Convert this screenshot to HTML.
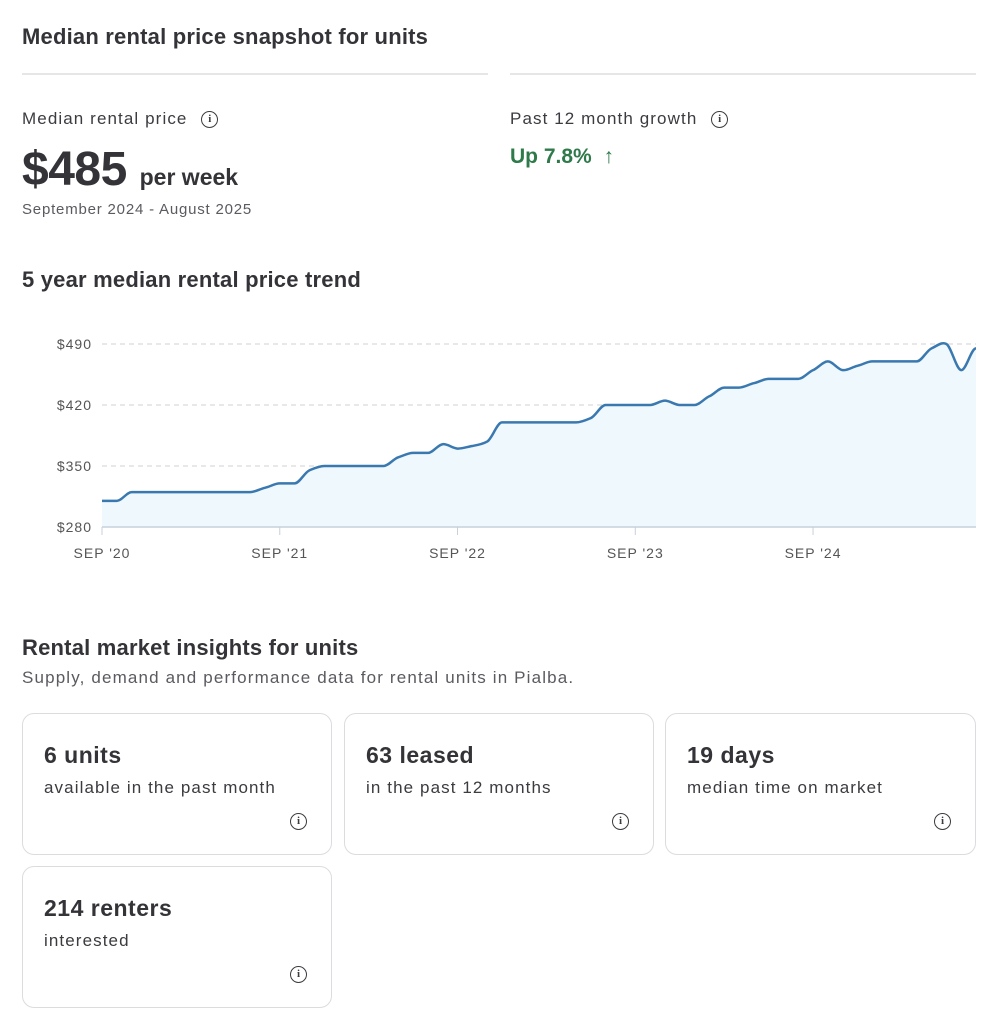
<!DOCTYPE html>
<html><head><meta charset="utf-8">
<style>
body{margin:0;width:994px;height:1024px;background:#fff;font-family:"Liberation Sans",sans-serif;color:#3b3b40;position:relative;overflow:hidden}
.a{position:absolute;white-space:nowrap}
.h{font-weight:bold;font-size:22px;color:#333338;letter-spacing:0.2px}
.rule{position:absolute;height:2px;background:#e6e6e8}
.lbl{font-size:17px;color:#3b3b40;letter-spacing:1.1px}
.info{display:inline-block;width:15px;height:15px;border:1.5px solid #3b3b40;border-radius:50%;font-size:11px;line-height:15px;text-align:center;font-weight:bold;font-family:"Liberation Serif",serif;vertical-align:middle;letter-spacing:0}
.card{position:absolute;border:1px solid #dcdcdf;border-radius:12px;box-sizing:border-box}
.card .t{position:absolute;left:21px;top:28px;font-size:23px;font-weight:bold;color:#333338;letter-spacing:0.5px}
.card .s{position:absolute;left:21px;top:64px;font-size:17px;color:#3b3b40;letter-spacing:1.1px}
.card .info{position:absolute;right:24px;top:99px}
</style></head><body>
<div class="a h" style="left:22px;top:24px">Median rental price snapshot for units</div>
<div class="rule" style="left:22px;top:73px;width:466px"></div>
<div class="rule" style="left:510px;top:73px;width:466px"></div>
<div class="a lbl" style="left:22px;top:109px">Median rental price <span class="info" style="margin-left:8px">i</span></div>
<div class="a" style="left:22px;top:142px;font-size:48px;font-weight:bold;color:#333338;letter-spacing:-0.5px">$485 <span style="font-size:23px;letter-spacing:0">per week</span></div>
<div class="a" style="left:22px;top:201px;font-size:15px;color:#5a5a60;letter-spacing:0.8px">September 2024 - August 2025</div>
<div class="a lbl" style="left:510px;top:109px">Past 12 month growth <span class="info" style="margin-left:8px">i</span></div>
<div class="a" style="left:510px;top:145px;font-size:21px;font-weight:bold;color:#2e7a4a">Up 7.8% <span style="font-weight:normal;margin-left:6px">↑</span></div>
<div class="a h" style="left:22px;top:267px">5 year median rental price trend</div>

<svg class="a" style="left:0;top:320px" width="994" height="250" id="chart"></svg>

<div class="a h" style="left:22px;top:635px">Rental market insights for units</div>
<div class="a" style="left:22px;top:668px;font-size:17px;color:#5a5a60;letter-spacing:1.15px">Supply, demand and performance data for rental units in Pialba.</div>

<div class="card" style="left:22px;top:713px;width:310px;height:142px"><div class="t">6 units</div><div class="s">available in the past month</div><span class="info">i</span></div>
<div class="card" style="left:344px;top:713px;width:310px;height:142px"><div class="t">63 leased</div><div class="s">in the past 12 months</div><span class="info">i</span></div>
<div class="card" style="left:665px;top:713px;width:311px;height:142px"><div class="t">19 days</div><div class="s">median time on market</div><span class="info">i</span></div>
<div class="card" style="left:22px;top:866px;width:310px;height:142px"><div class="t">214 renters</div><div class="s">interested</div><span class="info">i</span></div>

<script>
const values=[310,310,320,320,320,320,320,320,320,320,320,325,330,330,345,350,350,350,350,350,360,365,365,375,370,373,378,400,400,400,400,400,400,405,420,420,420,420,425,420,420,430,440,440,445,450,450,450,460,470,460,465,470,470,470,470,485,490,460,485];
const yTicks=[280,350,420,490];
const xTickLabels=["SEP '20","SEP '21","SEP '22","SEP '23","SEP '24"];
const xTickMonths=[0,12,24,36,48];
const NS="http://www.w3.org/2000/svg";
const svg=document.getElementById('chart');
const x=m=>102+m*(874/59);
const y=v=>207-(v-280)*(183/210);
function mk(t,a){const e=document.createElementNS(NS,t);for(const k in a)e.setAttribute(k,a[k]);svg.appendChild(e);return e;}
yTicks.forEach(v=>{
  if(v>280){const l=mk('line',{x1:102,x2:976,y1:y(v),y2:y(v),stroke:'#d0d0d4','stroke-dasharray':'5,4','stroke-width':1});
  
  }
  const t=mk('text',{x:92,y:y(v)+5,'text-anchor':'end','font-size':14,fill:'#555','font-family':'Liberation Sans, sans-serif','letter-spacing':'1'});
  t.textContent='$'+v;
  
  
});
const pts=values.map((v,i)=>[x(i),y(v)]);
let d='M'+pts[0][0]+','+pts[0][1];
for(let i=0;i<pts.length-1;i++){
  const p0=pts[Math.max(i-1,0)],p1=pts[i],p2=pts[i+1],p3=pts[Math.min(i+2,pts.length-1)];
  const tn=0.12;
  let c1y=p1[1]+(p2[1]-p0[1])*tn, c2y=p2[1]-(p3[1]-p1[1])*tn;
  if(p1[1]===p2[1]){c1y=p1[1];c2y=p2[1];}
  if(p0[1]===p1[1])c1y=p1[1];
  if(p2[1]===p3[1])c2y=p2[1];
  d+=' C'+(p1[0]+(p2[0]-p1[0])/3)+','+c1y+' '+(p2[0]-(p2[0]-p1[0])/3)+','+c2y+' '+p2[0]+','+p2[1];
}
const area=mk('path',{d:d+' L'+x(values.length-1)+','+y(280)+' L'+x(0)+','+y(280)+'Z',fill:'#eef8fd'});


const base=mk('line',{x1:102,x2:976,y1:y(280),y2:y(280),stroke:'#c8d0dc','stroke-width':1.5});


const line=mk('path',{d:d,fill:'none',stroke:'#3a78b0','stroke-width':2.5,'stroke-linejoin':'round'});


xTickMonths.forEach((m,i)=>{
  const tk=mk('line',{x1:x(m),x2:x(m),y1:y(280),y2:y(280)+8,stroke:'#c8d0dc','stroke-width':1});
  
  
  const t=mk('text',{x:x(m),y:238,'text-anchor':'middle','font-size':14,fill:'#555','font-family':'Liberation Sans, sans-serif','letter-spacing':'1'});
  t.textContent=xTickLabels[i];
  
  
});
</script>
</body></html>
